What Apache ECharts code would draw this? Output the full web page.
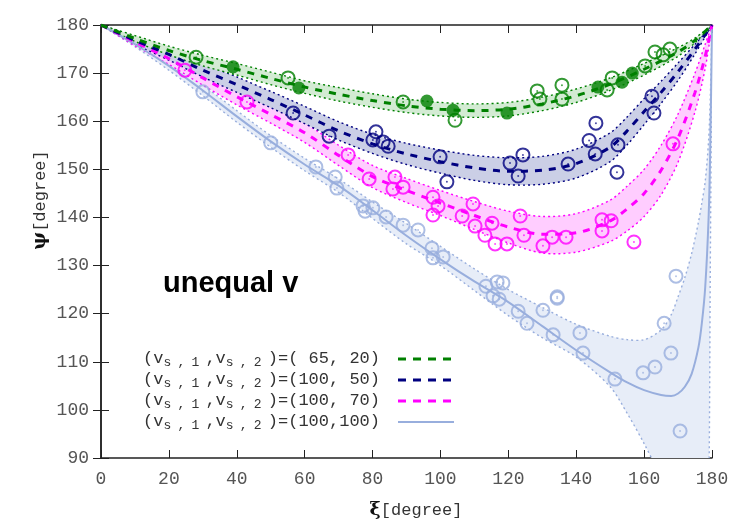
<!DOCTYPE html>
<html>
<head>
<meta charset="utf-8">
<script src="https://cdn.jsdelivr.net/npm/echarts@6/dist/echarts.min.js"></script>
<style>
    html, body { margin: 0; padding: 0; background: #fff; }
    #chart { width: 750px; height: 525px; }
</style>
</head>
<body>
<div id="chart"></div>
<script>
// axis ticks
const xTicks = [0, 20, 40, 60, 80, 100, 120, 140, 160, 180];
const yTicks = [90, 100, 110, 120, 130, 140, 150, 160, 170, 180];

// (v_s1, v_s2) = (65, 20)  -- green
const greenX   = [0, 10, 20, 30, 40, 50, 60, 70, 80, 90, 100, 110, 120, 130, 140, 150, 160, 170, 175, 180];
const greenMid = [180, 177.2, 174.7, 172.6, 170.8, 168.9, 167.1, 165.6, 164.3, 163.2, 162.5, 162.2, 162.5, 163.6, 165.3, 167.7, 170.8, 174.4, 176.8, 180];
const greenUp  = [180, 177.8, 175.6, 173.7, 172.0, 170.2, 168.4, 167.0, 165.7, 164.6, 163.9, 163.6, 163.9, 165.0, 166.7, 169.0, 172.0, 175.3, 177.3, 180];
const greenLow = [180, 176.6, 173.8, 171.5, 169.6, 167.6, 165.8, 164.2, 162.9, 161.8, 161.1, 160.8, 161.1, 162.2, 163.9, 166.4, 169.6, 173.5, 176.3, 180];
const greenOpen = [[28, 173.3], [55.1, 169], [89, 164], [104.3, 160.2], [128.5, 166.3], [129.3, 164.6], [135.8, 167.5],
    [135.8, 164.6], [150.6, 169], [149.1, 166.5], [160.3, 171.5], [163.2, 174.4], [165.6, 173.8], [167.6, 175]];
const greenFilled = [[38.9, 171.3], [58.3, 166.9], [96, 164.2], [103.7, 162.3], [119.6, 161.7], [146.4, 167.1], [153.5, 168.1], [156.5, 170]];

// (100, 50) -- navy
const navyX   = [0, 10, 20, 30, 40, 50, 60, 70, 80, 90, 100, 110, 120, 130, 140, 150, 155, 160, 165, 170, 175, 180];
const navyMid = [180, 176.8, 173.9, 170.6, 167.6, 164.5, 161.3, 158.0, 155.3, 153.2, 151.6, 150.3, 149.6, 149.8, 151.2, 154.6, 158.0, 162.0, 166.0, 170.3, 175.0, 180];
const navyUp  = [180, 177.6, 175.1, 172.0, 169.2, 166.2, 163.1, 159.9, 157.3, 155.4, 154.0, 152.9, 152.4, 152.7, 154.2, 157.6, 160.9, 164.7, 168.3, 172.1, 176.0, 180];
const navyLow = [180, 176.0, 172.7, 169.2, 166.0, 162.8, 159.5, 156.1, 153.3, 151.0, 149.2, 147.7, 146.8, 146.9, 148.2, 151.6, 155.1, 159.3, 163.7, 168.5, 174.0, 180];
const navyOpen = [[56.6, 161.7], [67.2, 156.9], [81, 157.8], [80.1, 156.1], [83.1, 155.7], [84.6, 154.8], [99.9, 152.6],
    [101.9, 147.4], [120.5, 151.3], [124.3, 153], [122.9, 148.6], [137.6, 151.1], [145.6, 153.2], [143.8, 156.0],
    [152.3, 155.1], [152, 149.4], [145.8, 159.6], [162.3, 165.2], [162.9, 161.7]];

// (100, 70) -- magenta
const magX   = [0, 10, 20, 30, 40, 50, 60, 70, 80, 90, 100, 110, 120, 130, 140, 150, 155, 160, 165, 170, 175, 178, 180];
const magMid = [180, 176.5, 173.0, 169.0, 165.1, 161.4, 157.6, 152.9, 148.5, 145.6, 143.0, 140.4, 138.0, 136.5, 136.8, 139.3, 141.8, 145.0, 149.8, 156.5, 166.0, 173.5, 180];
const magUp  = [180, 177.3, 174.2, 170.5, 166.8, 163.2, 159.6, 155.0, 150.8, 148.1, 145.6, 143.3, 141.3, 140.2, 140.8, 143.6, 146.5, 150.0, 155.0, 161.5, 170.0, 176.0, 180];
const magLow = [180, 175.7, 171.8, 167.5, 163.4, 159.6, 155.6, 150.8, 146.2, 143.1, 140.4, 137.5, 134.7, 132.6, 132.8, 135.0, 137.2, 140.2, 144.7, 151.5, 162.0, 171.0, 180];
const magOpen = [[24.7, 170.6], [43, 164], [72.8, 153], [79, 148], [86.6, 148.4], [86, 145.9], [89, 146.3], [97.8, 144.2],
    [99.3, 142.4], [97.8, 140.5], [109.6, 142.8], [106.4, 140.3], [110.2, 138.2], [115.2, 138.8], [113.1, 136.3],
    [116.1, 134.5], [119.6, 134.5], [123.5, 140.3], [124.6, 136.3], [130.2, 134.1], [132.9, 135.9], [137, 135.9],
    [147.6, 139.5], [150.3, 139.3], [147.6, 137.2], [157, 134.9], [168.5, 155.3]];

// (100, 100) -- light blue
const blueX   = [0, 10, 20, 30, 40, 50, 60, 70, 80, 90, 100, 110, 120, 130, 140, 150, 155, 160, 165, 168, 170, 172, 174, 176, 177, 178, 179, 179.5, 180];
const blueMid = [180, 176.0, 171.5, 166.4, 161.0, 155.8, 151.0, 146.6, 141.5, 136.2, 131.3, 126.7, 122.4, 117.4, 112.4, 107.8, 105.7, 104.1, 103.1, 102.9, 103.4, 104.8, 107.5, 113.0, 118.0, 125.5, 140.0, 155.0, 180];
const blueUp  = [180, 176.5, 172.4, 167.5, 162.2, 157.0, 152.3, 148.0, 143.2, 138.7, 134.0, 129.3, 125.0, 121.3, 117.8, 115.3, 114.6, 114.6, 116.6, 119.8, 123.5, 127.5, 132.5, 139.0, 143.0, 147.5, 156.0, 165.0, 180];
const blueLow = [180, 175.5, 170.6, 165.3, 159.8, 154.6, 149.7, 145.2, 139.8, 134.5, 130.0, 124.8, 119.6, 115.0, 111.0, 104.8, 99.3, 93.0, 86.0, 82.0, 78.0, 75.0, 72.0, 68.0, 66.0, 64.0, 80.0, 130.0, 180];
const blueOpen = [[30, 166.1], [50, 155.5], [63.3, 150.5], [69, 148.4], [69.5, 146.1], [77.2, 142.4], [77.8, 141.3],
    [80.1, 142], [84, 140.1], [89, 138.4], [93.4, 137.4], [97.5, 133.6], [97.8, 131.6], [100.8, 131.8], [113.4, 125.7],
    [116.7, 126.6], [118.4, 126.4], [115.5, 123.7], [117.3, 123], [122.9, 120.5], [125.5, 118], [130.2, 120.7],
    [134.4, 123.5], [134.4, 123.2], [133.2, 115.6], [141.1, 116], [142, 111.8], [151.4, 106.4], [159.7, 107.7],
    [163.2, 108.9], [167.9, 111.8], [165.9, 118], [169.4, 127.8], [170.6, 95.6]];

const legendLabels = ['( 65, 20)', '(100, 50)', '(100, 70)', '(100,100)'];

const GREEN = '#008000', NAVY = '#000080', MAGENTA = '#ff00ff', BLUE = '#98aedd';
const MONO = 'Liberation Mono';

function zip(xs, ys) {
    return xs.map(function (x, i) { return [x, ys[i]]; });
}

// shaded band with dotted edges, drawn through the grid's coord()
function band_series(xs, low, up, color, fill) {
    return {
        type: 'custom',
        silent: true,
        data: [0],
        z: 1,
        renderItem: function (params, api) {
            const cs = params.coordSys;
            const clip = function () {
                return {type: 'rect', shape: {x: cs.x, y: cs.y, width: cs.width, height: cs.height}};
            };
            const upPts = xs.map(function (x, i) { return api.coord([x, up[i]]); });
            const lowPts = xs.map(function (x, i) { return api.coord([x, low[i]]); });
            const edge = {stroke: color, lineWidth: 1.4, lineDash: [2, 3], fill: null};
            return {
                type: 'group',
                children: [
                    {type: 'polygon', shape: {points: upPts.concat(lowPts.slice().reverse()), smooth: 0.3},
                        style: {fill: fill}, clipPath: clip()},
                    {type: 'polyline', shape: {points: upPts, smooth: 0.3}, style: edge, clipPath: clip()},
                    {type: 'polyline', shape: {points: lowPts, smooth: 0.3}, style: edge, clipPath: clip()}
                ]
            };
        }
    };
}

function mid_series(xs, ys, color, dashed) {
    return {
        type: 'line',
        data: zip(xs, ys),
        smooth: 0.3,
        symbol: 'none',
        silent: true,
        z: 3,
        lineStyle: dashed
            ? {color: color, width: 3, type: [7, 7]}
            : {color: color, width: 2}
    };
}

function circle_series(points, color, filled) {
    const marks = [{
        type: 'scatter',
        data: points,
        symbol: 'circle',
        symbolSize: 13,
        silent: true,
        z: 4,
        itemStyle: filled
            ? {color: color}
            : {color: 'rgba(0,0,0,0)', borderColor: color, borderWidth: 2}
    }];
    // little centre dot of the open markers
    if (!filled) {
        marks.push({
            type: 'scatter',
            data: points,
            symbolSize: 2,
            silent: true,
            z: 5,
            itemStyle: {color: color, opacity: 0.7}
        });
    }
    return marks;
}

const series = [
    band_series(blueX, blueLow, blueUp, BLUE, '#e7edf8'),
    band_series(magX, magLow, magUp, MAGENTA, '#ffcdff'),
    band_series(navyX, navyLow, navyUp, NAVY, '#cbcfe6'),
    band_series(greenX, greenLow, greenUp, GREEN, '#d3ebd3'),
    mid_series(blueX, blueMid, BLUE, false),
    mid_series(magX, magMid, MAGENTA, true),
    mid_series(navyX, navyMid, NAVY, true),
    mid_series(greenX, greenMid, GREEN, true)
].concat(
    circle_series(blueOpen, BLUE, false),
    circle_series(magOpen, MAGENTA, false),
    circle_series(navyOpen, NAVY, false),
    circle_series(greenOpen, GREEN, false),
    circle_series(greenFilled, GREEN, true)
);

const axisCommon = {
    axisLine: {lineStyle: {color: '#222', width: 1.5}},
    axisTick: {inside: true, length: 8, lineStyle: {color: '#222', width: 1}},
    splitLine: {show: false}
};
const labelStyle = {fontFamily: MONO, fontSize: 18, color: '#555', margin: 12};

// legend rows
const legendColors = [GREEN, NAVY, MAGENTA, BLUE];
const legendTop = 347;
const legendStep = 21;
const graphic = [];
legendLabels.forEach(function (lab, i) {
    const y = legendTop + i * legendStep;
    graphic.push({
        type: 'text',
        x: 143,
        y: y,
        silent: true,
        style: {
            text: '{m|(v}{s|s}{s|,}{s|1}{m|,v}{s|s}{s|,}{s|2}{m|)=' + lab + '}',
            rich: {
                m: {fontFamily: MONO, fontSize: 17, lineHeight: 22, fill: '#333'},
                s: {fontFamily: MONO, fontSize: 13, width: 14, verticalAlign: 'bottom', fill: '#333'}
            }
        }
    });
    graphic.push({
        type: 'line',
        silent: true,
        shape: {x1: 398, y1: y + 12, x2: 454, y2: y + 12},
        style: i < 3
            ? {stroke: legendColors[i], lineWidth: 3, lineDash: [8, 7]}
            : {stroke: legendColors[i], lineWidth: 2}
    });
});

graphic.push({
    type: 'text', x: 163, y: 284, silent: true,
    style: {text: 'unequal v', fontFamily: 'Liberation Sans', fontWeight: 'bold', fontSize: 29,
        fill: '#000', verticalAlign: 'middle'}
});
graphic.push({
    type: 'text', x: 416, y: 510, silent: true,
    style: {
        text: '{g|ξ}{m|[degree]}', align: 'center', verticalAlign: 'middle',
        rich: {
            g: {fontFamily: 'DejaVu Serif', fontWeight: 'bold', fontSize: 19, fill: '#111'},
            m: {fontFamily: MONO, fontSize: 17, fill: '#333'}
        }
    }
});
graphic.push({
    type: 'text', x: 40, y: 200, rotation: Math.PI / 2, silent: true,
    style: {
        text: '{g|ψ}{m|[degree]}', align: 'center', verticalAlign: 'middle',
        rich: {
            g: {fontFamily: 'DejaVu Serif', fontWeight: 'bold', fontSize: 19, fill: '#111'},
            m: {fontFamily: MONO, fontSize: 17, fill: '#333'}
        }
    }
});

const chart = echarts.init(document.getElementById('chart'), null, {renderer: 'canvas'});
chart.setOption({
    animation: false,
    backgroundColor: '#fff',
    grid: {left: 101, right: 38, top: 25, bottom: 67, containLabel: false},
    xAxis: [
        Object.assign({type: 'value', position: 'bottom', min: xTicks[0], max: xTicks[xTicks.length - 1], interval: 20,
            axisLabel: labelStyle}, axisCommon),
        Object.assign({type: 'value', position: 'top', min: xTicks[0], max: xTicks[xTicks.length - 1], interval: 20,
            axisLabel: {show: false}}, axisCommon)
    ],
    yAxis: [
        Object.assign({type: 'value', position: 'left', min: yTicks[0], max: yTicks[yTicks.length - 1], interval: 10,
            axisLabel: labelStyle}, axisCommon),
        Object.assign({type: 'value', position: 'right', min: yTicks[0], max: yTicks[yTicks.length - 1], interval: 10,
            axisLabel: {show: false}}, axisCommon)
    ],
    series: series,
    graphic: graphic
});
</script>
</body>
</html>
